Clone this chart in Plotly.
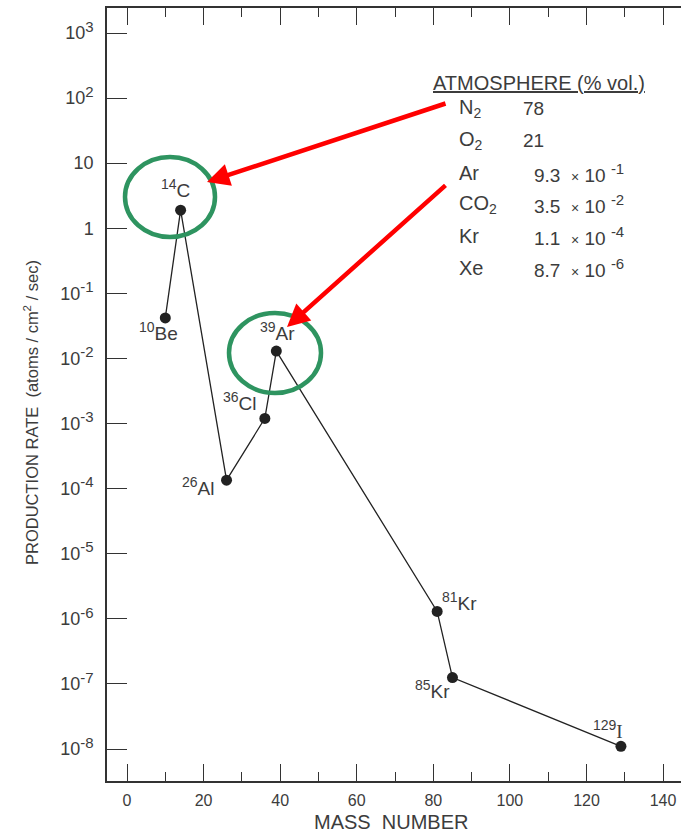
import math
import plotly.graph_objects as go

# ---- data ----
mass_numbers = [10, 14, 26, 36, 39, 81, 85, 129]
production_rates = [4.2e-2, 1.9, 1.35e-4, 1.2e-3, 1.3e-2, 1.3e-6, 1.25e-7, 1.1e-8]
isotope_mass = ["10", "14", "26", "36", "39", "81", "85", "129"]
isotope_symbol = ["Be", "C", "Al", "Cl", "Ar", "Kr", "Kr", "I"]

y_tick_vals = [1e3, 1e2, 1e1, 1e0, 1e-1, 1e-2, 1e-3, 1e-4, 1e-5, 1e-6, 1e-7, 1e-8]
y_tick_exp = ["3", "2", None, None, "-1", "-2", "-3", "-4", "-5", "-6", "-7", "-8"]
y_tick_base = ["10", "10", "10", "1", "10", "10", "10", "10", "10", "10", "10", "10"]
x_tick_vals = [0, 20, 40, 60, 80, 100, 120, 140]

atm_gas = ["N<sub>2</sub>", "O<sub>2</sub>", "Ar", "CO<sub>2</sub>", "Kr", "Xe"]
atm_mantissa = ["78", "21", "9.3", "3.5", "1.1", "8.7"]
atm_exponent = [None, None, "-1", "-2", "-4", "-6"]

# ---- layout geometry ----
W, H = 681, 834
ML, MR, MT, MB = 107, 0, 8, 53
PW, PH = W - ML - MR, H - MT - MB

def px(xp):
    return (xp - ML) / PW

def py(yp):
    return (H - MB - yp) / PH

TXT = "#3c3c3c"
LINE = "#333333"
FONT = "Liberation Sans, Arial, Helvetica, sans-serif"
SERIF = "Liberation Serif, Times New Roman, serif"

def sup(s, size):
    return f"<sup><span style='font-size:{size}px'>{s}</span></sup>"

y_tick_text = [b if e is None else b + sup(e, 15) for b, e in zip(y_tick_base, y_tick_exp)]

fig = go.Figure()
fig.add_trace(go.Scatter(
    x=mass_numbers, y=production_rates, mode="lines+markers",
    line=dict(color="#222222", width=1.3),
    marker=dict(color="#222222", size=11),
    showlegend=False, hoverinfo="skip",
))

# isotope labels (offsets relative to each point)
label_offsets = [(-7, -14), (-5, 22), (-29, -6), (-25, 17), (1, 20), (22, 10), (-20, -12), (-13, 17)]
annotations = []
for xm, ym, m, s, (dx, dy) in zip(mass_numbers, production_rates, isotope_mass, isotope_symbol, label_offsets):
    sym = s if s != "I" else f"<span style='font-family:{SERIF}'>{s}</span>"
    annotations.append(dict(
        x=xm, y=math.log10(ym), xref="x", yref="y",
        text=sup(m, 14) + sym, showarrow=False,
        xshift=dx, yshift=dy,
        font=dict(family=FONT, size=19, color=TXT),
    ))

# atmosphere table
annotations.append(dict(
    x=px(431), y=py(83), xref="paper", yref="paper", xanchor="left", yanchor="middle",
    text="<u>ATMOSPHERE (% vol.)</u>", showarrow=False,
    font=dict(family=FONT, size=20, color=TXT),
))
row_y = [109, 141, 173, 204, 236, 268]
for g, mnt, e, ry in zip(atm_gas, atm_mantissa, atm_exponent, row_y):
    annotations.append(dict(
        x=px(457), y=py(ry), xref="paper", yref="paper", xanchor="left", yanchor="middle",
        text=g, showarrow=False, font=dict(family=FONT, size=20, color=TXT),
    ))
    if e is None:
        txt = mnt
        xl = 521
    else:
        txt = f"{mnt}  <span style='font-size:14px'>×</span> 10 " + sup(e, 15)
        xl = 532
    annotations.append(dict(
        x=px(xl), y=py(ry), xref="paper", yref="paper", xanchor="left", yanchor="middle",
        text=txt, showarrow=False, font=dict(family=FONT, size=19, color=TXT),
    ))

# red arrows
annotations.append(dict(
    x=px(207), y=py(182), xref="paper", yref="paper", ax=240, ay=-79,
    text="", showarrow=True, arrowhead=2, arrowsize=1.0, arrowwidth=4.5, arrowcolor="#ff0000",
))
annotations.append(dict(
    x=px(287), y=py(327), xref="paper", yref="paper", ax=160, ay=-143,
    text="", showarrow=True, arrowhead=2, arrowsize=1.0, arrowwidth=4.5, arrowcolor="#ff0000",
))

# axis titles
annotations.append(dict(
    x=px(31), y=py(413), xref="paper", yref="paper", textangle=-90,
    xanchor="center", yanchor="middle",
    text="PRODUCTION RATE  (atoms / cm<sup>2</sup> / sec)", showarrow=False,
    font=dict(family=FONT, size=16.5, color=TXT),
))
annotations.append(dict(
    x=px(391), y=py(822), xref="paper", yref="paper",
    xanchor="center", yanchor="middle",
    text="MASS  NUMBER", showarrow=False,
    font=dict(family=FONT, size=20, color=TXT),
))

# green circles around 14C and 39Ar
GREEN = "#2e9460"
shapes = [
    dict(type="circle", xref="paper", yref="paper",
         x0=px(125), x1=px(215), y0=py(237), y1=py(157), line=dict(color=GREEN, width=4.5)),
    dict(type="circle", xref="paper", yref="paper",
         x0=px(229), x1=px(321), y0=py(393), y1=py(313), line=dict(color=GREEN, width=4.5)),
]

x_left = (ML - 127) / 3.829
x_right = (W - MR - 127) / 3.829
y_top = 3 + (33 - MT) / 65.1
y_bot = -8 - (H - MB - 749) / 65.1

fig.update_layout(
    width=W, height=H,
    margin=dict(l=ML, r=MR, t=MT, b=MB, pad=0),
    paper_bgcolor="white", plot_bgcolor="white",
    font=dict(family=FONT, color=TXT),
    showlegend=False,
    annotations=annotations,
    shapes=shapes,
    xaxis=dict(
        range=[x_left, x_right], showgrid=False, zeroline=False,
        showline=True, linecolor=LINE, linewidth=1.5, mirror="ticks",
        ticks="inside", ticklen=17, tickwidth=1.3, tickcolor=LINE,
        tickvals=x_tick_vals, tickfont=dict(size=16, color=TXT, family=FONT),
        minor=dict(dtick=10, tick0=0, ticks="inside", ticklen=9, tickwidth=1.3, tickcolor=LINE, showgrid=False),
        ticklabelstandoff=4,
    ),
    yaxis=dict(
        type="log", range=[y_bot, y_top], showgrid=False, zeroline=False,
        showline=True, linecolor=LINE, linewidth=1.5, mirror=False,
        ticks="inside", ticklen=20, tickwidth=1.3, tickcolor=LINE,
        tickvals=y_tick_vals, ticktext=y_tick_text,
        tickfont=dict(size=18, color=TXT, family=FONT),
        ticklabelstandoff=8,
    ),
    yaxis2=dict(
        type="log", range=[y_bot, y_top], overlaying="y", side="right",
        showgrid=False, zeroline=False, showline=False,
        ticks="inside", ticklen=20, tickwidth=1.3, tickcolor=LINE,
        tickvals=y_tick_vals, showticklabels=False,
    ),
)

fig.write_html("out.html")
